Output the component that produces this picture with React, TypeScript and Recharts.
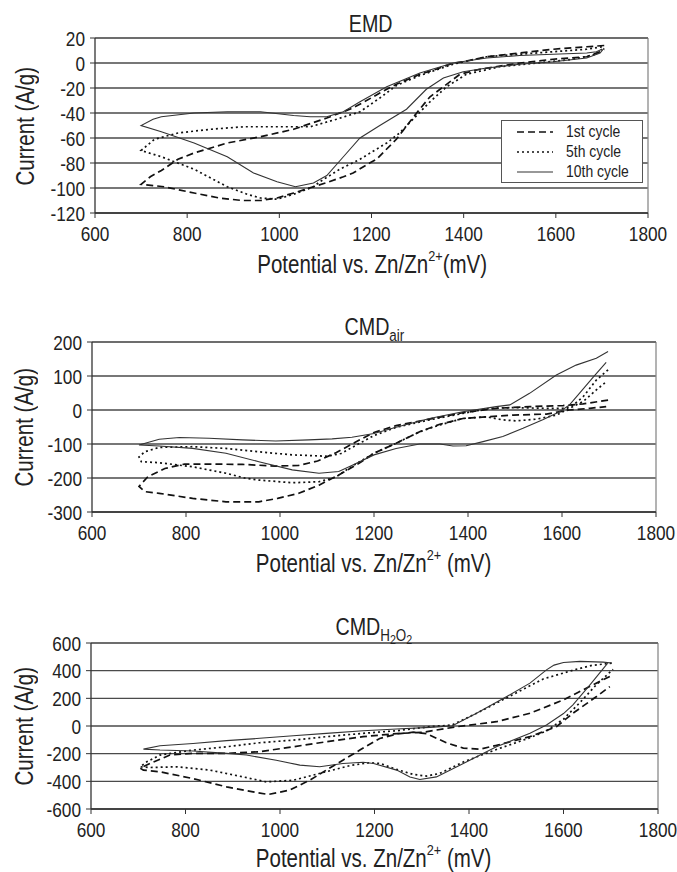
import React from 'react'
import { LineChart, Line, XAxis, YAxis, CartesianGrid, ReferenceLine, Legend } from 'recharts'

// no narrow face is installed, so Liberation Sans is squeezed horizontally
const FONT = "'Liberation Sans', Arial, sans-serif"
const SQUEEZE = 0.82

const cycleNames = ['1st cycle', '5th cycle', '10th cycle']
const potentialTicks = [600, 800, 1000, 1200, 1400, 1600, 1800]
const emdTicks = [-120, -100, -80, -60, -40, -20, 0, 20]
const airTicks = [-300, -200, -100, 0, 100, 200]
const h2o2Ticks = [-600, -400, -200, 0, 200, 400, 600]

// [potential mV, current A/g]: anodic branch read from 1700 back to 700, then cathodic branch out to 1700
const emd1st = [[1705, 14], [1667, 13], [1594, 11], [1522, 8], [1450, 5], [1400, 1], [1377, 0], [1340, -5], [1305, -9], [1254, -17], [1218, -24], [1180, -32], [1153, -37], [1103, -44], [1031, -53], [959, -59], [887, -64], [815, -72], [780, -77], [744, -86], [720, -91], [700, -97], [750, -99], [815, -104], [870, -108], [919, -110], [959, -110], [995, -108], [1031, -104], [1074, -99], [1100, -96], [1139, -91], [1160, -88], [1196, -80], [1211, -77], [1254, -61], [1298, -40], [1327, -27], [1356, -19], [1392, -9], [1435, -5], [1522, 0], [1594, 3], [1667, 5], [1696, 9], [1705, 11]]
const emd5th = [[1700, 13], [1667, 11], [1594, 9], [1522, 7], [1450, 5], [1400, 1], [1377, -1], [1305, -10], [1254, -18], [1218, -28], [1175, -39], [1124, -45], [1067, -51], [995, -51], [923, -51], [851, -53], [780, -56], [729, -61], [700, -70], [744, -75], [815, -85], [887, -99], [930, -105], [959, -108], [995, -109], [1031, -105], [1074, -99], [1088, -95], [1131, -85], [1175, -77], [1233, -64], [1261, -56], [1290, -45], [1327, -31], [1363, -19], [1406, -9], [1478, -3], [1558, 0], [1638, 3], [1688, 7], [1700, 11]]
const emd10th = [[1700, 11], [1688, 9], [1667, 8], [1594, 7], [1522, 6], [1450, 4], [1377, 0], [1305, -8], [1233, -19], [1175, -31], [1139, -39], [1103, -43], [1067, -43], [1031, -42], [959, -39], [887, -39], [815, -40], [744, -43], [726, -45], [700, -50], [744, -55], [815, -64], [887, -75], [944, -88], [995, -95], [1035, -99], [1074, -96], [1103, -90], [1139, -75], [1175, -60], [1218, -50], [1276, -37], [1319, -21], [1356, -12], [1399, -7], [1450, -4], [1522, -1], [1594, 1], [1667, 4], [1696, 8], [1705, 12]]

const air1st = [[1698, 29], [1645, 18], [1602, 13], [1531, 10], [1460, 5], [1389, -8], [1318, -27], [1247, -46], [1200, -66], [1160, -95], [1120, -125], [1080, -150], [1040, -163], [991, -165], [920, -160], [849, -159], [797, -159], [755, -172], [719, -196], [700, -225], [712, -240], [743, -245], [814, -260], [885, -270], [955, -270], [995, -260], [1040, -245], [1083, -221], [1125, -191], [1168, -157], [1200, -127], [1247, -98], [1297, -64], [1340, -42], [1389, -25], [1439, -20], [1496, -15], [1567, -12], [1616, 0], [1659, 5], [1694, 10]]
const air5th = [[1698, 118], [1673, 88], [1645, 39], [1620, 10], [1602, 5], [1567, 5], [1496, 7], [1446, 5], [1389, -10], [1318, -29], [1247, -51], [1200, -75], [1160, -105], [1130, -128], [1100, -136], [1026, -132], [955, -123], [885, -113], [814, -108], [743, -110], [712, -123], [700, -138], [705, -152], [743, -155], [814, -167], [885, -186], [927, -201], [955, -206], [1026, -214], [1083, -211], [1118, -198], [1148, -170], [1200, -127], [1247, -98], [1297, -64], [1340, -44], [1389, -25], [1439, -20], [1474, -29], [1503, -32], [1545, -27], [1588, -15], [1602, -5], [1645, 25], [1673, 59], [1694, 83]]
const air10th = [[1698, 172], [1673, 152], [1630, 132], [1588, 103], [1531, 49], [1489, 15], [1460, 10], [1389, -5], [1318, -25], [1247, -51], [1200, -69], [1153, -80], [1111, -85], [1061, -88], [991, -91], [920, -88], [849, -83], [786, -81], [743, -86], [715, -97], [700, -103], [743, -106], [814, -113], [885, -127], [955, -152], [1026, -176], [1083, -186], [1125, -181], [1155, -162], [1200, -132], [1247, -113], [1297, -100], [1340, -100], [1368, -106], [1396, -105], [1432, -93], [1474, -78], [1517, -54], [1559, -29], [1595, -5], [1616, 15], [1637, 49], [1666, 96], [1694, 140]]

const h2o21st = [[1698, 358], [1641, 261], [1600, 189], [1529, 92], [1458, 31], [1374, -5], [1303, -45], [1247, -55], [1176, -77], [1098, -114], [1028, -150], [957, -186], [887, -198], [816, -198], [767, -210], [725, -271], [704, -305], [711, -319], [746, -331], [816, -380], [887, -440], [943, -476], [975, -495], [1020, -464], [1063, -392], [1098, -319], [1133, -247], [1169, -174], [1211, -90], [1247, -58], [1282, -45], [1310, -55], [1352, -121], [1388, -160], [1423, -168], [1458, -140], [1529, -77], [1585, -5], [1620, 92], [1670, 213], [1698, 285]]
const h2o25th = [[1702, 455], [1660, 438], [1627, 410], [1557, 340], [1486, 215], [1416, 92], [1364, 7], [1317, -5], [1247, -34], [1176, -53], [1098, -77], [1028, -102], [957, -121], [887, -150], [816, -174], [746, -210], [718, -259], [704, -295], [725, -300], [781, -295], [852, -319], [922, -368], [971, -404], [1028, -392], [1098, -330], [1150, -285], [1190, -265], [1212, -271], [1247, -314], [1282, -350], [1310, -362], [1338, -343], [1388, -260], [1458, -170], [1529, -85], [1564, -35], [1600, 50], [1635, 170], [1670, 300], [1705, 410]]
const h2o210th = [[1702, 455], [1684, 462], [1635, 467], [1600, 459], [1580, 440], [1564, 406], [1529, 310], [1480, 213], [1416, 92], [1364, 0], [1317, -10], [1247, -22], [1176, -34], [1098, -53], [1028, -70], [957, -89], [887, -106], [816, -126], [746, -143], [711, -167], [746, -174], [816, -181], [887, -198], [929, -210], [992, -247], [1042, -283], [1084, -295], [1133, -271], [1176, -262], [1198, -271], [1247, -319], [1275, -368], [1296, -387], [1331, -368], [1388, -271], [1458, -150], [1529, -53], [1564, 7], [1600, 90], [1620, 152], [1656, 297], [1694, 456]]

const lineStyles = [
  { stroke: '#111', strokeWidth: 1.7, strokeDasharray: '7 4' },
  { stroke: '#111', strokeWidth: 1.7, strokeDasharray: '2 3' },
  { stroke: '#333', strokeWidth: 1.1 },
]

const rows = (pts: number[][]) => pts.map(([v, i]) => ({ v, i }))

function Squeezed({ children, origin = 'center' }: any) {
  return (
    <span style={{ display: 'inline-block', transform: `scaleX(${SQUEEZE})`, transformOrigin: origin, whiteSpace: 'nowrap' }}>
      {children}
    </span>
  )
}

function CycleLegend() {
  return (
    <div style={{ width: 142, height: 63, boxSizing: 'border-box', border: '1px solid #555', background: '#fff', fontFamily: FONT, fontSize: 17, color: '#222', paddingTop: 1 }}>
      {cycleNames.map((name, k) => (
        <div key={name} style={{ display: 'flex', alignItems: 'center', height: 20, paddingLeft: 15, whiteSpace: 'nowrap' }}>
          <svg width={36} height={4} style={{ flex: 'none' }}>
            <line x1={0} y1={2} x2={36} y2={2} {...lineStyles[k]} />
          </svg>
          <span style={{ marginLeft: 13, lineHeight: '20px' }}>
            <Squeezed origin="left center">{name}</Squeezed>
          </span>
        </div>
      ))}
    </div>
  )
}

function Caption({ x, y, size, children, rotate }: any) {
  return (
    <div style={{
      position: 'absolute', left: x - 200, top: y - size / 2, width: 400, height: size,
      lineHeight: `${size}px`, textAlign: 'center', fontFamily: FONT, fontSize: size, color: '#222',
      whiteSpace: 'nowrap', transform: rotate ? 'rotate(-90deg)' : undefined,
    }}><Squeezed>{children}</Squeezed></div>
  )
}

function XTick({ x, y, payload }: any) {
  return (
    <g transform={`translate(${x},${y}) scale(${SQUEEZE},1)`}>
      <text x={0} y={0} dy="0.71em" textAnchor="middle" fontSize={21} fill="#222" fontFamily={FONT}>{payload.value}</text>
    </g>
  )
}

function YTick({ x, y, payload }: any) {
  return (
    <g transform={`translate(${x},${y}) scale(${SQUEEZE},1)`}>
      <text x={0} y={0} dy="0.36em" textAnchor="end" fontSize={21} fill="#222" fontFamily={FONT}>{payload.value}</text>
    </g>
  )
}

const supStyle = { fontSize: '0.62em', verticalAlign: '0.75em', lineHeight: 0 }
const subStyle = { fontSize: '0.68em', verticalAlign: '-0.35em', lineHeight: 0 }
const subSubStyle = { fontSize: '0.8em', verticalAlign: '-0.2em', lineHeight: 0 }

function Panel({ top, height, margin, yWidth, yTicks, series, legend }: any) {
  const yMin = yTicks[0]
  const yMax = yTicks[yTicks.length - 1]
  return (
    <div style={{ position: 'absolute', left: 0, top }}>
      <LineChart width={677} height={height} margin={margin}>
        <CartesianGrid horizontal vertical={false} stroke="#4a4a4a" strokeWidth={1.3} />
        <XAxis type="number" dataKey="v" domain={[600, 1800]} ticks={potentialTicks} height={40}
          axisLine={{ stroke: '#333', strokeWidth: 1.3 }} tickLine={{ stroke: '#333' }} tickSize={5} tickMargin={8}
          tick={(p: any) => <XTick {...p} />} allowDataOverflow interval={0} />
        <YAxis type="number" dataKey="i" domain={[yMin, yMax]} ticks={yTicks} width={yWidth}
          axisLine={{ stroke: '#333', strokeWidth: 1.3 }} tickLine={{ stroke: '#333' }} tickSize={5} tickMargin={5}
          tick={(p: any) => <YTick {...p} />} allowDataOverflow interval={0} />
        <ReferenceLine x={1800} stroke="#8a8a8a" strokeWidth={1.3} />
        <ReferenceLine y={yMax} stroke="#6a6a6a" strokeWidth={1.3} />
        {series.map((s: number[][], k: number) => (
          <Line key={cycleNames[k]} name={cycleNames[k]} data={rows(s)} dataKey="i" type="linear"
            dot={false} activeDot={false} isAnimationActive={false} {...lineStyles[k]} />
        ))}
        {legend && (
          <Legend layout="vertical" align="center" verticalAlign="middle"
            wrapperStyle={{ left: 501, top: 120, width: 142 }} content={() => <CycleLegend />} />
        )}
      </LineChart>
    </div>
  )
}

export default function App() {
  return (
    <div style={{ position: 'absolute', left: 0, top: 0, width: 677, height: 872, background: '#fff', overflow: 'hidden' }}>
      <Panel top={0} height={290} margin={{ top: 38, right: 29, bottom: 37, left: 10 }} yWidth={85}
        yTicks={emdTicks} series={[emd1st, emd5th, emd10th]} legend />
      <Panel top={300} height={290} margin={{ top: 42, right: 21, bottom: 38, left: 10 }} yWidth={82}
        yTicks={airTicks} series={[air1st, air5th, air10th]} />
      <Panel top={600} height={272} margin={{ top: 43, right: 19, bottom: 23, left: 10 }} yWidth={81}
        yTicks={h2o2Ticks} series={[h2o21st, h2o25th, h2o210th]} />

      <Caption x={371} y={24} size={24}>EMD</Caption>
      <Caption x={374} y={327} size={24}>CMD<span style={subStyle}>air</span></Caption>
      <Caption x={374} y={627} size={24}>
        CMD<span style={subStyle}>H<span style={subSubStyle}>2</span>O<span style={subSubStyle}>2</span></span>
      </Caption>

      <Caption x={25} y={126} size={25} rotate>Current (A/g)</Caption>
      <Caption x={24} y={427} size={25} rotate>Current (A/g)</Caption>
      <Caption x={24} y={726} size={25} rotate>Current (A/g)</Caption>

      <Caption x={372} y={264} size={25}>Potential vs. Zn/Zn<span style={supStyle}>2+</span>(mV)</Caption>
      <Caption x={374} y={563} size={25}>Potential vs. Zn/Zn<span style={supStyle}>2+</span> (mV)</Caption>
      <Caption x={374} y={858} size={25}>Potential vs. Zn/Zn<span style={supStyle}>2+</span> (mV)</Caption>
    </div>
  )
}
